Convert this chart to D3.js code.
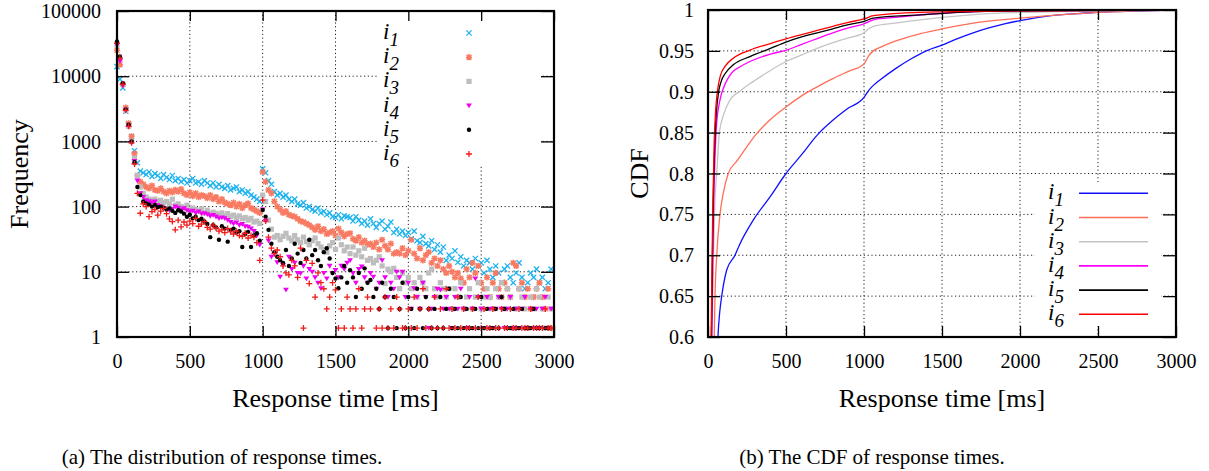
<!DOCTYPE html>
<html>
<head>
<meta charset="utf-8">
<script src="https://cdn.jsdelivr.net/npm/d3@7"></script>
<style>
  body { margin: 0; background: #fff; }
  svg { display: block; }
</style>
</head>
<body>
<svg id="chart" width="1209" height="471"></svg>
<script>
// ---------- data ----------
const seriesIds = ["1", "2", "3", "4", "5", "6"];
const binWidthMs = 20;               // histogram bin width
const timeTicks = [0, 500, 1000, 1500, 2000, 2500, 3000];
const freqTicks = [1, 10, 100, 1000, 10000, 100000];
const cdfTicks = [0.6, 0.65, 0.7, 0.75, 0.8, 0.85, 0.9, 0.95, 1];
const cdfTickLabels = ["0.6", "0.65", "0.7", "0.75", "0.8", "0.85", "0.9", "0.95", "1"];

// frequency per 20 ms bin (null = empty bin)
const freqI1 = [
  14000, 9000, 6600, 2900, 1800, 1180, 720, 470, 350, 330,
  310, 340, 290, 320, 300, 270, 310, 280, 260, 300,
  250, 270, 240, 260, 230, 250, 270, 230, 240, 220,
  250, 230, 210, 230, 200, 220, 200, 190, 210, 180,
  190, 200, 170, 180, 160, 170, 150, 140, 130, 120,
  380, 330, 250, 220, 170, 150, 160, 140, 150, 130,
  120, 130, 110, 105, 115, 95, 100, 90, 85, 95,
  80, 85, 75, 80, 70, 68, 75, 65, 72, 70,
  68, 60, 70, 62, 55, 60, 52, 65, 55, 48,
  55, 60, 45, 50, 58, 40, 45, 38, 42, 36,
  40, 32, 42, 30, 28, 35, 27, 25, 30, 22,
  26, 20, 24, 15, 18, 16, 21, 14, 17, 12.3,
  15, 13.7, 11, 16, 12.3, 13.7, 9.6, 15, 11, 8.2,
  12.3, 9.6, 6.8, 11, 12.3, 8.2, 6.8, 9.6, 13.7, 8.2,
  5.5, 6.8, 9.6, 8.2, 11, 6.8, 8.2, 5.5, 6.8, 11
];
const freqI2 = [
  25000, 15000, 7500, 3300, 1900, 1200, 650, 300, 240, 220,
  200, 190, 210, 180, 175, 190, 170, 160, 175, 165,
  180, 170, 185, 160, 150, 165, 145, 160, 140, 150,
  145, 135, 150, 130, 140, 120, 130, 115, 110, 105,
  115, 100, 110, 95, 105, 112, 95, 90, 85, 80,
  340, 240, 180, 160, 120, 100, 90, 80, 85, 75,
  72, 70, 65, 60, 58, 55, 52, 48, 44, 50,
  42, 45, 38, 40, 42, 36, 46, 40, 35, 38,
  39, 32, 30, 34, 28, 30, 26, 27, 24, 28,
  22, 31, 25, 22, 27, 19, 20, 19, 23, 18,
  21, 31, 19, 16, 23, 15, 18, 20, 13.7, 16,
  12.3, 15, 11, 9.6, 12.3, 10, 8.2, 9.6, 7.9, 6.8,
  11, 8.2, 13.7, 9.6, 12.3, 6.8, 5.5, 8.2, 4.1, 6.8,
  9.6, 5.5, 4.1, 6.8, 5.5, 4.1, 13.7, 12.3, 5.5, 6.8,
  4.1, 5.5, 2.7, 4.1, 5.5, 6.8, 4.1, 2.7, 5.5, 1.37
];
const freqI3 = [
  30000, 18000, 7500, 3000, 1700, 1000, 550, 300, 200, 160,
  140, 130, 125, 130, 120, 125, 115, 120, 110, 130,
  105, 110, 100, 95, 105, 88, 95, 90, 85, 92,
  80, 88, 78, 82, 79, 75, 80, 72, 78, 70,
  74, 68, 72, 65, 68, 62, 66, 58, 60, 55,
  150, 120, 62, 45, 34, 36, 31, 35, 39, 33,
  30, 36, 31, 28, 34, 29, 26, 30, 33, 27,
  24, 22, 20, 25, 28, 22, 33, 26, 21, 24,
  19, 24, 18, 21, 17, 23, 15, 16, 13.7, 15,
  17, 12.3, 6.6, 11, 10, 11.3, 8.2, 5.5, 9.6, 6.8,
  8.2, 5.5, 6.8, 4.1, 8.2, 6.8, 5.5, 9.6, 11, 5.5,
  4.1, 6.8, 5.5, 4.1, 5.5, 2.7, 5.5, 4.1, 6.8, 2.7,
  4.1, 5.5, 2.7, 4.1, 6.8, 2.7, 4.1, 5.5, 4.1, 2.7,
  5.5, 4.1, 6.8, 2.7, 5.5, 4.1, 1.37, 2.7, 5.5, 4.1,
  2.7, 1.37, 4.1, 2.7, 5.5, 4.1, 2.7, 1.37, 4.1, 2.7
];
const freqI4 = [
  30000, 17000, 7200, 3000, 1700, 950, 500, 250, 160, 140,
  125, 120, 115, 119, 105, 100, 95, 90, 88, 92,
  100, 96, 90, 94, 88, 84, 86, 80, 84, 78,
  79, 76, 72, 74, 70, 66, 68, 66, 62, 58,
  55, 57, 52, 54, 50, 49, 46, 42, 36, 26,
  90, 60, 30, 17, 19, 14, 8.4, 12.7, 5.3, 17,
  11, 13.7, 9.6, 9.5, 12.3, 7.9, 11, 10, 8.2, 6.8,
  5.6, 9.6, 7.9, 12.3, 9.6, 10.6, 8.2, 12.3, 11, 13.7,
  15, 9.6, 6.8, 11, 12, 8.2, 6.8, 9.6, 8.4, 5.5,
  6.8, 15, 8.2, 4.1, 6.8, 5.5, 10, 8.2, 10, 4.1,
  6.8, 2.7, 5.6, 4.1, 2.7, 6.8, 4.1, 1.37, 2.7, 4.1,
  5.5, 5.3, 2.7, 4.1, 2.7, 1.37, 4.1, 2.7, 5.5, 2.7,
  1.37, 4.1, 2.7, 7.9, 4.1, 2.7, 1.37, 4.1, 2.7, 1.37,
  2.7, 4.1, 2.7, 1.37, 2.7, 4.1, 1.37, 2.7, 1.37, 2.7,
  4.1, 1.37, 2.7, 1.37, 2.7, 1.37, 2.7, 4.1, 1.37, 2.7
];
const freqI5 = [
  34000, 20000, 7800, 3100, 1800, 1000, 480, 200, 150, 120,
  112, 108, 100, 106, 98, 100, 96, 90, 94, 86,
  80, 88, 84, 78, 70, 75, 66, 70, 62, 65,
  59, 54, 34, 52, 48, 31, 50, 46, 29, 44,
  46, 40, 42, 24, 38, 41, 24, 36, 39, 30,
  89, 70, 44, 27, 20, 17, 15, 13.7, 21.6, 12.3,
  16, 27, 19, 13.7, 21.6, 16, 31, 18, 21.6, 15,
  12.3, 20, 23, 16, 9.6, 7.9, 5.6, 8.2, 12.3, 6.8,
  10.6, 8.2, 4.1, 9.6, 5.5, 11.3, 6.8, 7.5, 4.1, 5.5,
  2.7, 6.8, 4.1, 1.37, 5.5, 4.1, 1.37, 2.7, 6.8, 1.37,
  4.1, 2.7, 1.37, 5.5, 2.7, 1.37, 4.1, 2.7, 1.37, 2.7,
  1.37, 4.1, 1.37, 2.7, 5.5, 1.37, 2.7, 1.37, 4.1, 1.37,
  2.7, 1.37, 1.37, 2.7, 1.37, 4.1, 1.37, 2.7, 1.37, 1.37,
  2.7, 1.37, 4.1, 2.7, 1.37, 1.37, 2.7, 1.37, 1.37, 2.7,
  1.37, 1.37, 1.37, 2.7, 1.37, 1.37, null, 1.37, 1.37, null
];
const freqI6 = [
  32000, 19000, 7500, 3000, 1700, 950, 450, 160, 79, 110,
  100, 70, 84, 90, 74, 85, 94, 78, 65, 59,
  44, 62, 49, 58, 52, 60, 55, 66, 50, 54,
  59, 48, 45, 52, 47, 42, 44, 40, 46, 41,
  38, 42, 36, 35, 39, 33, 36, 34, 28, 15,
  126, 60, 34, 23, 19, 21.6, 17, 12.3, 9.6, 9,
  15, 12.3, 8.2, 23, 1.37, 15, 6.6, 13.5, 4.1, 9.6,
  6.8, 5.5, 2.7, 4.1, 6.8, 5.3, 1.37, 2.7, 1.37, 4.1,
  2.7, 1.37, 2.7, 5.5, 1.37, 2.7, 4.1, 2.7, null, 1.37,
  2.7, 1.37, 4.1, 1.37, 2.7, 1.37, 4.1, 2.7, 1.37, 1.37,
  2.7, 1.37, 4.1, 1.37, 2.7, 5.5, 1.37, 2.7, 1.37, 4.1,
  1.37, 2.7, 1.37, 5.5, 1.37, 2.7, 1.37, 4.1, 1.37, 2.7,
  1.37, 1.37, 2.7, 1.37, 4.1, 1.37, 2.7, 1.37, 1.37, 2.7,
  1.37, 1.37, 2.7, 1.37, 1.37, 2.7, 1.37, 1.37, 2.7, 1.37,
  1.37, 1.37, 2.7, 1.37, 1.37, 1.37, 1.37, 2.7, 1.37, 1.37
];

// cumulative distribution: response time (ms) and CDF value
const cdfI1Ms  = [50, 64, 75, 88, 120, 173, 200, 290, 400, 500, 600, 700, 800, 900, 1000, 1020, 1050, 1080, 1100, 1200, 1300, 1400, 1500, 1600, 1700, 1800, 1900, 2000, 2200, 2400, 2600, 2800, 3000];
const cdfI1Val = [0.5, 0.6, 0.63, 0.65, 0.682, 0.70, 0.712, 0.743, 0.772, 0.80, 0.823, 0.847, 0.865, 0.880, 0.893, 0.899, 0.906, 0.911, 0.914, 0.928, 0.940, 0.950, 0.957, 0.965, 0.972, 0.978, 0.983, 0.987, 0.993, 0.996, 0.998, 0.999, 1.0];
const cdfI2Ms  = [30, 40, 45, 56, 77, 98, 130, 184, 250, 300, 400, 504, 600, 700, 800, 900, 1000, 1030, 1060, 1100, 1200, 1360, 1500, 1700, 2000, 2250, 2500, 2750, 3000];
const cdfI2Val = [0.5, 0.6, 0.65, 0.70, 0.75, 0.776, 0.80, 0.815, 0.833, 0.846, 0.866, 0.882, 0.895, 0.906, 0.916, 0.925, 0.934, 0.944, 0.950, 0.954, 0.962, 0.971, 0.977, 0.984, 0.990, 0.994, 0.997, 0.999, 1.0];
const cdfI3Ms  = [15, 26, 35, 45, 56, 73, 100, 141, 200, 270, 350, 500, 600, 700, 800, 900, 1000, 1030, 1060, 1200, 1360, 1500, 1750, 2000, 2500, 3000];
const cdfI3Val = [0.5, 0.6, 0.70, 0.77, 0.80, 0.85, 0.872, 0.89, 0.90, 0.91, 0.92, 0.937, 0.945, 0.953, 0.960, 0.966, 0.972, 0.977, 0.980, 0.984, 0.988, 0.991, 0.995, 0.997, 0.999, 1.0];
const cdfI4Ms  = [12, 24, 35, 45, 55, 77, 100, 130, 162, 200, 269, 400, 504, 600, 700, 800, 900, 1000, 1060, 1200, 1500, 2000, 3000];
const cdfI4Val = [0.5, 0.6, 0.75, 0.82, 0.86, 0.89, 0.905, 0.917, 0.925, 0.93, 0.937, 0.946, 0.951, 0.958, 0.965, 0.972, 0.978, 0.983, 0.988, 0.991, 0.996, 0.999, 1.0];
const cdfI5Ms  = [10, 22, 32, 42, 52, 68, 85, 109, 162, 269, 400, 504, 600, 700, 800, 900, 1000, 1060, 1360, 1600, 2000, 3000];
const cdfI5Val = [0.5, 0.6, 0.75, 0.83, 0.87, 0.90, 0.913, 0.922, 0.933, 0.943, 0.953, 0.961, 0.967, 0.972, 0.977, 0.982, 0.986, 0.990, 0.994, 0.997, 0.999, 1.0];
const cdfI6Ms  = [8, 20, 30, 40, 50, 60, 80, 109, 162, 269, 400, 504, 600, 700, 800, 900, 1000, 1060, 1360, 2000, 3000];
const cdfI6Val = [0.5, 0.6, 0.75, 0.84, 0.88, 0.90, 0.92, 0.931, 0.941, 0.951, 0.959, 0.965, 0.970, 0.975, 0.980, 0.985, 0.989, 0.993, 0.997, 0.999, 1.0];

// ---------- styles ----------
const scatterStyle = [
  { marker: "times",    color: "#1db2ee" },
  { marker: "asterisk", color: "#f87a62" },
  { marker: "square",   color: "#bdbdbd" },
  { marker: "triangle", color: "#f000f0" },
  { marker: "dot",      color: "#000000" },
  { marker: "plus",     color: "#f41a1a" }
];
const lineColors = ["#1010ff", "#ff6e58", "#c4c4c4", "#ff00ff", "#000000", "#ff0000"];
const FONT = '"Liberation Serif", "Times New Roman", Times, serif';

const freqSeries = [freqI1, freqI2, freqI3, freqI4, freqI5, freqI6];
const cdfSeries = [
  [cdfI1Ms, cdfI1Val], [cdfI2Ms, cdfI2Val], [cdfI3Ms, cdfI3Val],
  [cdfI4Ms, cdfI4Val], [cdfI5Ms, cdfI5Val], [cdfI6Ms, cdfI6Val]
];

const svg = d3.select("#chart");

// marker outlines centred on the origin
function markerPath(type) {
  const s = 2.6;
  switch (type) {
    case "times":    return `M${-s},${-s}L${s},${s}M${-s},${s}L${s},${-s}`;
    case "plus":     return `M${-s - 0.4},0L${s + 0.4},0M0,${-s - 0.4}L0,${s + 0.4}`;
    case "asterisk": {
      const a = 3.1, b = a * 0.78;
      return `M${-a},0L${a},0M0,${-a}L0,${a}M${-b},${-b}L${b},${b}M${-b},${b}L${b},${-b}`;
    }
    case "square":   return `M${-s},${-s}H${s}V${s}H${-s}Z`;
    case "triangle": return `M${-s - 0.3},${-s * 0.8}H${s + 0.3}L0,${s * 1.05}Z`;
    case "dot":      return d3.arc()({ innerRadius: 0, outerRadius: 2.2, startAngle: 0, endAngle: 2 * Math.PI });
  }
}
function isStroked(type) { return type === "times" || type === "plus" || type === "asterisk"; }
function drawMarker(g, type, color) {
  const p = g.append("path").attr("d", markerPath(type));
  if (isStroked(type)) p.attr("fill", "none").attr("stroke", color).attr("stroke-width", type === "asterisk" ? 1.5 : 1.3);
  else p.attr("fill", color);
  return p;
}

function gridLines(g, box, xs, ys, xScale, yScale) {
  const grid = g.append("g").attr("stroke", "#222").attr("stroke-width", 1)
    .attr("stroke-dasharray", "1.2,2.6");
  xs.forEach(v => grid.append("line").attr("x1", xScale(v)).attr("x2", xScale(v))
    .attr("y1", box.y0).attr("y2", box.y1));
  ys.forEach(v => grid.append("line").attr("x1", box.x0).attr("x2", box.x1)
    .attr("y1", yScale(v)).attr("y2", yScale(v)));
}

function styleAxis(g, fontSize) {
  g.select(".domain").remove();
  g.attr("font-family", FONT).attr("font-size", fontSize);
  g.selectAll(".tick line").attr("stroke", "#000").attr("stroke-width", 1.3);
  g.selectAll("text").style("font-family", FONT).attr("font-size", fontSize).attr("fill", "#000");
}

function frameAxes(box, xScale, yScale, xTicks, yTicks, yFormat, yPad) {
  const gx = svg.append("g").attr("transform", `translate(0,${box.y1})`)
    .call(d3.axisBottom(xScale).tickValues(xTicks).tickSize(-11).tickPadding(17).tickFormat(d3.format("d")));
  styleAxis(gx, 20);
  const gxt = svg.append("g").attr("transform", `translate(0,${box.y0})`)
    .call(d3.axisTop(xScale).tickValues(xTicks).tickSize(-10).tickFormat(""));
  styleAxis(gxt, 20);
  const gy = svg.append("g").attr("transform", `translate(${box.x0},0)`)
    .call(d3.axisLeft(yScale).tickValues(yTicks).tickSize(-12).tickPadding(yPad).tickFormat(yFormat));
  styleAxis(gy, 20);
  gy.selectAll("text").attr("dy", "0.33em");
  const gyr = svg.append("g").attr("transform", `translate(${box.x1},0)`)
    .call(d3.axisRight(yScale).tickValues(yTicks).tickSize(-13).tickFormat(""));
  styleAxis(gyr, 20);
  svg.append("rect").attr("x", box.x0).attr("y", box.y0)
    .attr("width", box.x1 - box.x0).attr("height", box.y1 - box.y0)
    .attr("fill", "none").attr("stroke", "#000").attr("stroke-width", 2.2);
}

function legendLabel(x, y, id) {
  const t = svg.append("text").attr("x", x).attr("y", y)
    .style("font-family", FONT).attr("font-style", "italic").attr("font-size", 23).attr("fill", "#000");
  t.append("tspan").text("i");
  t.append("tspan").attr("dy", 7).attr("font-size", 19).text(id);
}

function plainText(x, y, size, str) {
  return svg.append("text").attr("x", x).attr("y", y).attr("text-anchor", "middle")
    .style("font-family", FONT).attr("font-size", size).attr("fill", "#000").text(str);
}

// ---------- (a) frequency of response times ----------
const A = { x0: 117, x1: 554, y0: 11, y1: 337 };
const xA = d3.scaleLinear().domain([0, 3000]).range([A.x0, A.x1]);
const yA = d3.scaleLog().domain([1, 100000]).range([A.y1, A.y0]);

gridLines(svg, A, timeTicks.slice(1, -1), freqTicks.slice(1, -1), xA, yA);
// legend background
svg.append("rect").attr("x", 379).attr("y", A.y0 + 1).attr("width", 161).attr("height", 153).attr("fill", "#fff");

const plotA = svg.append("g");
freqSeries.forEach((vals, si) => {
  const st = scatterStyle[si];
  const g = plotA.append("g");
  vals.forEach((v, bi) => {
    if (v == null) return;
    const ms = bi * binWidthMs;
    const m = g.append("g").attr("transform", `translate(${xA(ms)},${yA(v)})`);
    drawMarker(m, st.marker, st.color);
  });
});

seriesIds.forEach((id, i) => {
  const y = 33 + i * 24.2;
  legendLabel(383, y + 6, id);
  const m = svg.append("g").attr("transform", `translate(469,${y})`);
  drawMarker(m, scatterStyle[i].marker, scatterStyle[i].color);
});

frameAxes(A, xA, yA, timeTicks, freqTicks, d3.format("d"), 16);

plainText((A.x0 + A.x1) / 2, 407, 26, "Response time [ms]");
plainText(0, 0, 26, "Frequency").attr("transform", `translate(28,${(A.y0 + A.y1) / 2}) rotate(-90)`);
plainText(222, 464, 21, "(a) The distribution of response times.");

// ---------- (b) CDF of response times ----------
const B = { x0: 708, x1: 1176, y0: 10, y1: 337 };
const xB = d3.scaleLinear().domain([0, 3000]).range([B.x0, B.x1]);
const yB = d3.scaleLinear().domain([0.6, 1]).range([B.y1, B.y0]);

gridLines(svg, B, timeTicks.slice(1, -1), cdfTicks.slice(1, -1), xB, yB);
svg.append("rect").attr("x", 1035).attr("y", 182).attr("width", 126).attr("height", 144).attr("fill", "#fff");

svg.append("clipPath").attr("id", "clipB").append("rect")
  .attr("x", B.x0).attr("y", B.y0 - 1).attr("width", B.x1 - B.x0).attr("height", B.y1 - B.y0 + 1);
const line = d3.line().x(d => xB(d[0])).y(d => yB(d[1])).curve(d3.curveMonotoneX);
const plotB = svg.append("g").attr("clip-path", "url(#clipB)");
cdfSeries.forEach(([ms, val], i) => {
  plotB.append("path").datum(ms.map((m, k) => [m, val[k]]))
    .attr("d", line).attr("fill", "none").attr("stroke", lineColors[i]).attr("stroke-width", 1.3);
});

seriesIds.forEach((id, i) => {
  const y = 193.3 + i * 24.2;
  legendLabel(1048, y + 6, id);
  svg.append("line").attr("x1", 1079).attr("x2", 1148).attr("y1", y).attr("y2", y)
    .attr("stroke", lineColors[i]).attr("stroke-width", 1.6);
});

const cdfFmt = d => cdfTickLabels[cdfTicks.indexOf(d)];
frameAxes(B, xB, yB, timeTicks, cdfTicks, cdfFmt, 14);

plainText((B.x0 + B.x1) / 2, 407, 26, "Response time [ms]");
plainText(0, 0, 26, "CDF").attr("transform", `translate(648,${(B.y0 + B.y1) / 2}) rotate(-90)`);
plainText(872, 464, 21, "(b) The CDF of response times.");
</script>
</body>
</html>
